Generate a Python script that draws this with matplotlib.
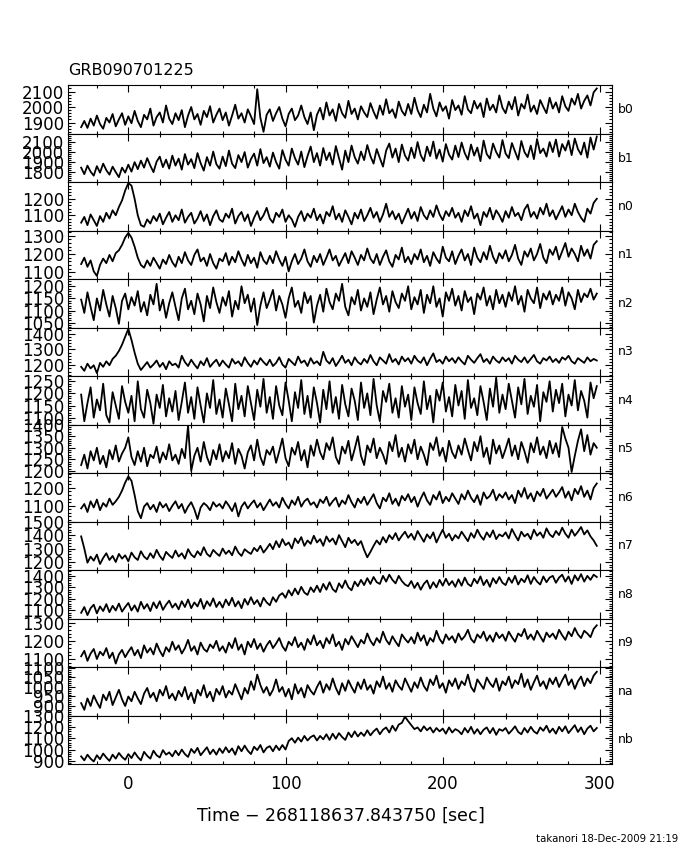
import numpy as np
import matplotlib
matplotlib.use("Agg")
import matplotlib.pyplot as plt
from matplotlib.ticker import MultipleLocator, FixedLocator

# time bins (sec, relative to trigger): -30 ... 298 every 2 s
t_start, t_step, n_bins = -30, 2, 165
time = t_start + t_step * np.arange(n_bins)

detectors = ["b0", "b1", "n0", "n1", "n2", "n3", "n4", "n5", "n6", "n7", "n8", "n9", "na", "nb"]

# count rates, one row = 30 s
b0 = [1870, 1910, 1865, 1925, 1880, 1945, 1890, 1860, 1930, 1900, 1955, 1875, 1920, 1960, 1885,
      1940, 1895, 1975, 1910, 1870, 1950, 1920, 1990, 1880, 1935, 1965, 1900, 2010, 1925, 1890,
      1960, 1915, 1980, 1870, 1945, 2000, 1920, 1955, 1885, 1975, 1935, 2005, 1900, 1950, 1990,
      1915, 1965, 1880, 1945, 2015, 1925, 1960, 1900, 1985, 1940, 1890, 2115, 1930, 1840, 1950,
      1985, 1910, 1960, 2000, 1925, 1875, 1955, 1990, 1915, 1945, 2010, 1935, 1890, 1965, 1850,
      1950, 1995, 1920, 2030, 1945, 1985, 1910, 2020, 1960, 1930, 2040, 1955, 1990, 1920, 2005,
      1965, 1935, 2025, 1970, 1925, 2010, 1950, 2050, 1960, 1985, 1930, 2035, 1975, 1945, 2020,
      1955, 2060, 1980, 1935, 2015, 1965, 2085, 1990, 1940, 2030, 1975, 2005, 1925, 2045, 1980,
      2010, 1950, 2070, 1985, 1960, 2040, 1990, 2025, 1935, 2055, 1980, 2015, 1965, 2075, 1995,
      1960, 2035, 1985, 2065, 1945, 2020, 1990, 2080, 1970, 2010, 1955, 2045, 2000, 1960, 2060,
      1990, 2030, 1965, 2070, 2005, 1975, 2055, 2015, 2085, 1990, 2040, 2075, 2010, 2095, 2120]
b1 = [1840, 1775, 1860, 1800, 1760, 1855, 1790, 1880, 1815, 1770, 1850, 1795, 1745, 1840, 1790,
      1870, 1800, 1895, 1825, 1910, 1840, 1935, 1860, 1795, 1900, 1950, 1845, 1920, 1830, 1960,
      1860, 1930, 1820, 1975, 1870, 1925, 1835, 1985, 1885, 1810, 1945, 1860, 2000, 1875, 1830,
      1950, 1855, 2010, 1880, 1835, 1965, 1895, 1995, 1840, 1925, 1980, 1860, 2025, 1885, 1945,
      1850, 1990, 1895, 1830, 2015, 1920, 1860, 2030, 1935, 1870, 2000, 1845, 1955, 2050, 1895,
      1985, 1860, 2035, 1915, 1990, 1870, 2055, 1935, 1820, 2010, 1895, 2060, 1945, 1880, 2000,
      1915, 2065, 1955, 1880, 2025, 1935, 1850, 2010, 2080, 1940, 2030, 1895, 2070, 1960, 1910,
      2040, 1935, 2095, 1965, 1905, 2050, 1955, 2100, 1930, 2020, 1900, 2075, 1970, 1920, 2060,
      1945, 2090, 1985, 1920, 2070, 1960, 2040, 1905, 2110, 1975, 1930, 2080, 1995, 1940, 2115,
      1980, 1935, 2085, 2000, 1920, 2105, 1995, 1945, 2060, 1925, 2125, 1985, 2030, 1950, 2095,
      1995, 2120, 1950, 2075, 2010, 2110, 1965, 2130, 2025, 1970, 2090, 1940, 2140, 2020, 2150]
n0 = [1055, 1090, 1040, 1105, 1070, 1035, 1095, 1060, 1115, 1080, 1130, 1100, 1150, 1190, 1250,
      1295, 1280, 1200, 1100, 1040, 1030, 1075, 1050, 1095, 1065, 1110, 1045, 1085, 1120, 1060,
      1100, 1070, 1135, 1055, 1090, 1115, 1050, 1080, 1125, 1065, 1105, 1040, 1095, 1130, 1075,
      1060, 1110, 1085, 1140, 1050, 1095, 1120, 1065, 1105, 1035, 1085, 1125, 1070, 1100, 1145,
      1080, 1055, 1115, 1090, 1135, 1060, 1100, 1075, 1030, 1090, 1125, 1065, 1110, 1085, 1140,
      1070, 1105, 1050, 1120, 1095, 1155, 1075, 1110, 1060, 1130, 1090, 1045, 1115, 1080, 1135,
      1065, 1100, 1145, 1085, 1120, 1060, 1105, 1170, 1090, 1125, 1075, 1110, 1050, 1095, 1140,
      1080, 1120, 1065, 1150, 1100, 1075, 1130, 1090, 1160, 1105, 1070, 1125, 1095, 1145, 1085,
      1115, 1060, 1130, 1095, 1155, 1080, 1110, 1040, 1120, 1090, 1145, 1075, 1130, 1100, 1060,
      1125, 1085, 1150, 1095, 1115, 1070, 1135, 1165, 1090, 1120, 1080, 1145, 1105, 1170, 1095,
      1130, 1075, 1115, 1155, 1090, 1135, 1100, 1170, 1120, 1085, 1060, 1140, 1110, 1175, 1200]
n1 = [1145, 1180, 1130, 1165, 1105, 1080, 1140, 1175, 1150, 1195, 1160, 1205, 1220, 1250, 1290,
      1315, 1290, 1240, 1180, 1140, 1125, 1165, 1135, 1180, 1150, 1120, 1170, 1145, 1195, 1155,
      1130, 1185, 1150, 1210, 1165, 1140, 1195, 1225, 1160, 1180, 1135, 1200, 1150, 1120, 1175,
      1160, 1205, 1140, 1185, 1155, 1215, 1170, 1135, 1195, 1150, 1180, 1125, 1210, 1165, 1145,
      1190, 1150, 1215, 1170, 1135, 1185, 1105, 1160, 1200, 1145, 1175, 1225, 1160, 1130, 1190,
      1155, 1200, 1140, 1180, 1225, 1165, 1190, 1135, 1170, 1205, 1150, 1215, 1180, 1140, 1195,
      1165, 1230, 1175, 1150, 1200, 1140, 1185, 1220, 1160, 1130, 1195, 1170, 1235, 1155, 1185,
      1145, 1200, 1170, 1225, 1155, 1190, 1135, 1210, 1175, 1150, 1240, 1180, 1160, 1215, 1145,
      1190, 1225, 1165, 1200, 1140, 1235, 1180, 1155, 1210, 1170, 1245, 1185, 1150, 1205, 1175,
      1220, 1160, 1195, 1250, 1175, 1140, 1215, 1185, 1230, 1165, 1200, 1255, 1180, 1150, 1225,
      1195, 1240, 1170, 1215, 1260, 1185, 1230, 1200, 1160, 1245, 1190, 1225, 1175, 1250, 1270]
n2 = [1145, 1090, 1175, 1115, 1060, 1150, 1100, 1185, 1125, 1075, 1160, 1110, 1045, 1140, 1170,
      1105, 1155, 1120, 1180, 1095, 1135, 1080, 1165, 1125, 1210, 1100, 1145, 1070, 1130, 1175,
      1115, 1060, 1150, 1190, 1105, 1140, 1085, 1170, 1125, 1055, 1160, 1110, 1195, 1135, 1090,
      1155, 1120, 1180, 1075, 1140, 1105, 1200, 1130, 1165, 1095, 1150, 1040, 1120, 1175, 1110,
      1145, 1185, 1100, 1160, 1125, 1070, 1150, 1195, 1115, 1140, 1090, 1175, 1130, 1160, 1050,
      1120, 1165, 1095, 1190, 1135, 1105, 1170, 1140, 1210, 1115, 1080, 1155, 1125, 1185, 1100,
      1150, 1115, 1175, 1085, 1145, 1195, 1125, 1160, 1095, 1180, 1135, 1110, 1170, 1140, 1200,
      1105, 1155, 1125, 1185, 1090, 1165, 1130, 1200, 1115, 1150, 1075, 1175, 1140, 1190, 1120,
      1160, 1100, 1180, 1135, 1155, 1085, 1170, 1145, 1195, 1120, 1160, 1105, 1185, 1130, 1165,
      1115, 1175, 1140, 1200, 1125, 1160, 1095, 1185, 1150, 1130, 1195, 1110, 1170, 1145, 1180,
      1125, 1165, 1140, 1195, 1120, 1175, 1150, 1105, 1185, 1135, 1170, 1155, 1190, 1145, 1170]
n3 = [1190, 1165, 1210, 1180, 1200, 1150, 1215, 1190, 1225, 1200, 1240, 1260, 1290, 1330, 1380,
      1430, 1360, 1280, 1210, 1170, 1195, 1220, 1185, 1205, 1230, 1190, 1215, 1175, 1225, 1200,
      1210, 1185, 1260, 1220, 1195, 1235, 1205, 1180, 1225, 1200, 1245, 1190, 1215, 1235, 1195,
      1230, 1205, 1185, 1240, 1210, 1225, 1195, 1250, 1215, 1190, 1230, 1205, 1245, 1220, 1200,
      1235, 1195, 1215, 1250, 1205, 1185, 1240, 1220, 1200, 1255, 1215, 1230, 1195, 1245, 1210,
      1225, 1200, 1285, 1230, 1210, 1245, 1195, 1225, 1260, 1215, 1235, 1200, 1250, 1220, 1205,
      1240, 1215, 1265, 1225, 1200, 1250, 1230, 1210, 1270, 1220, 1240, 1205, 1255, 1225, 1245,
      1210, 1260, 1230, 1215, 1250, 1200, 1240, 1275, 1220, 1235, 1210, 1255, 1225, 1245, 1215,
      1250, 1225, 1205, 1260, 1235, 1215, 1245, 1270, 1220, 1240, 1210, 1255, 1230, 1215, 1250,
      1225, 1245, 1210, 1260, 1235, 1220, 1250, 1215, 1240, 1265, 1225, 1210, 1245, 1230, 1255,
      1220, 1240, 1215, 1250, 1235, 1260, 1225, 1210, 1245, 1230, 1215, 1250, 1225, 1240, 1230]
n4 = [1195, 1085, 1160, 1225, 1100, 1175, 1130, 1240, 1110, 1080, 1205, 1150, 1095, 1230, 1165,
      1120, 1190, 1085, 1250, 1135, 1100, 1215, 1160, 1075, 1195, 1140, 1235, 1105, 1180, 1125,
      1210, 1090, 1165, 1245, 1120, 1185, 1095, 1225, 1150, 1080, 1200, 1140, 1255, 1115, 1175,
      1100, 1220, 1155, 1085, 1240, 1135, 1190, 1105, 1230, 1160, 1090, 1215, 1145, 1260, 1120,
      1185, 1095, 1230, 1150, 1110, 1245, 1170, 1085, 1205, 1140, 1255, 1115, 1190, 1100, 1225,
      1160, 1080, 1215, 1135, 1250, 1120, 1185, 1095, 1235, 1155, 1105, 1220, 1170, 1090, 1245,
      1140, 1200, 1110, 1260, 1150, 1085, 1210, 1165, 1240, 1120, 1180, 1100, 1230, 1145, 1195,
      1090, 1225, 1160, 1115, 1250, 1135, 1190, 1080, 1215, 1170, 1245, 1125, 1185, 1105, 1235,
      1150, 1210, 1095, 1255, 1140, 1180, 1110, 1230, 1165, 1090, 1220, 1145, 1265, 1120, 1195,
      1135, 1240, 1170, 1100, 1225, 1155, 1260, 1115, 1190, 1145, 1235, 1085, 1205, 1165, 1250,
      1125, 1215, 1160, 1240, 1105, 1195, 1150, 1255, 1130, 1210, 1170, 1100, 1245, 1180, 1230]
n5 = [1225, 1270, 1210, 1285, 1245, 1300, 1230, 1265, 1215, 1290, 1250, 1310, 1240, 1275, 1300,
      1345, 1260, 1225, 1285, 1240, 1300, 1220, 1270, 1255, 1305, 1235, 1280, 1250, 1315, 1245,
      1270, 1230, 1295, 1255, 1395, 1200, 1265, 1300, 1240, 1325, 1260, 1225, 1290, 1250, 1315,
      1240, 1285, 1255, 1320, 1230, 1295, 1265, 1210, 1280, 1310, 1245, 1335, 1260, 1225, 1290,
      1270, 1305, 1235, 1285, 1340, 1255, 1220, 1300, 1270, 1325, 1245, 1290, 1215, 1310, 1265,
      1335, 1280, 1250, 1320, 1290, 1345, 1260, 1230, 1305, 1275, 1330, 1245, 1295, 1350, 1265,
      1225, 1310, 1280, 1340, 1255, 1300, 1270, 1230, 1325, 1285, 1355, 1260, 1300, 1240, 1315,
      1275, 1335, 1250, 1305, 1270, 1225, 1320, 1290, 1345, 1265, 1300, 1240, 1330, 1280, 1255,
      1310, 1270, 1340, 1290, 1245, 1325, 1285, 1350, 1260, 1300, 1230, 1335, 1275, 1310, 1255,
      1295, 1340, 1265, 1310, 1250, 1325, 1285, 1235, 1320, 1280, 1345, 1270, 1305, 1255, 1330,
      1275, 1320, 1260, 1390, 1340, 1300, 1195, 1265, 1330, 1380, 1285, 1355, 1270, 1320, 1300]
n6 = [1085, 1110, 1065, 1125, 1090, 1135, 1075, 1115, 1095, 1140, 1105, 1125, 1150, 1185, 1230,
      1265, 1240, 1160, 1070, 1030, 1095, 1115, 1080, 1105, 1065, 1120, 1090, 1110, 1070, 1100,
      1125, 1085, 1110, 1060, 1095, 1120, 1080, 1025, 1090, 1115, 1100, 1075, 1120, 1095, 1110,
      1085, 1125, 1100, 1070, 1115, 1040, 1095, 1120, 1085, 1110, 1130, 1090, 1115, 1075, 1105,
      1135, 1100, 1120, 1090, 1145, 1110, 1085, 1130, 1105, 1150, 1095, 1125, 1140, 1105, 1120,
      1090, 1135, 1115, 1150, 1100, 1125, 1145, 1095, 1130, 1110, 1160, 1120, 1090, 1140, 1115,
      1150, 1105, 1135, 1165, 1115, 1085, 1145, 1125, 1170, 1110, 1140, 1100, 1155, 1130, 1165,
      1120, 1150, 1095, 1140, 1175, 1130, 1105, 1160, 1135, 1180, 1115, 1150, 1125, 1170, 1140,
      1110, 1165, 1135, 1185, 1145, 1120, 1160, 1105, 1175, 1140, 1155, 1190, 1130, 1165, 1145,
      1175, 1135, 1160, 1115, 1185, 1150, 1200, 1140, 1170, 1125, 1180, 1155, 1195, 1140, 1165,
      1190, 1150, 1175, 1205, 1145, 1180, 1130, 1195, 1165, 1210, 1150, 1185, 1135, 1200, 1225]
n7 = [1390, 1300, 1195, 1240, 1210, 1255, 1185, 1230, 1265, 1215, 1245, 1200, 1260, 1225, 1250,
      1205, 1270, 1235, 1215, 1280, 1240, 1220, 1265, 1230, 1290, 1245, 1215, 1275, 1250, 1230,
      1285, 1240, 1265, 1225, 1295, 1255, 1235, 1280, 1250, 1310, 1260, 1240, 1290, 1265, 1245,
      1300, 1260, 1285, 1250, 1315, 1270, 1245, 1295, 1275, 1260, 1305, 1280, 1320, 1270, 1300,
      1335, 1295, 1355, 1310, 1370, 1325, 1345, 1300, 1375, 1340, 1385, 1320, 1360, 1335, 1395,
      1345, 1370, 1320, 1390, 1350, 1375, 1330, 1400, 1355, 1310, 1380, 1340, 1365, 1325, 1355,
      1290, 1235, 1275, 1320, 1360, 1330, 1385, 1345, 1400, 1370, 1415, 1360, 1395, 1425, 1380,
      1410, 1365, 1430, 1390, 1350, 1405, 1375, 1420, 1345, 1395, 1440, 1380, 1410, 1360, 1400,
      1375, 1425, 1390, 1355, 1415, 1380, 1440, 1395, 1365, 1420, 1385, 1435, 1370, 1405, 1390,
      1420, 1375, 1445, 1400, 1360, 1425, 1390, 1410, 1370, 1440, 1395, 1420, 1380, 1450, 1405,
      1385, 1430, 1400, 1455, 1410, 1380, 1440, 1395, 1425, 1460, 1405, 1435, 1390, 1360, 1320]
n8 = [1080, 1130, 1060, 1120, 1150, 1075, 1135, 1095, 1155, 1085, 1140, 1100, 1160, 1090, 1130,
      1165, 1100, 1145, 1090, 1175, 1115, 1155, 1095, 1170, 1120, 1180, 1105, 1150, 1185, 1125,
      1160, 1110, 1180, 1130, 1195, 1120, 1170, 1135, 1200, 1115, 1180, 1140, 1205, 1130, 1175,
      1125, 1195, 1145, 1210, 1135, 1180, 1120, 1200, 1150, 1215, 1155, 1190, 1135, 1210, 1170,
      1145, 1215, 1175, 1230, 1250, 1210, 1275, 1230, 1290, 1240, 1305, 1255, 1235, 1300, 1260,
      1315, 1260, 1330, 1280, 1345, 1285, 1260, 1335, 1295, 1360, 1300, 1275, 1350, 1310, 1365,
      1320, 1380, 1330, 1390, 1345, 1330, 1400, 1350, 1410, 1365, 1335, 1400, 1355, 1325, 1310,
      1355, 1295, 1340, 1280, 1330, 1360, 1290, 1345, 1300, 1365, 1315, 1375, 1320, 1355, 1305,
      1370, 1315, 1385, 1330, 1310, 1375, 1335, 1395, 1320, 1365, 1305, 1380, 1335, 1390, 1340,
      1320, 1385, 1340, 1400, 1325, 1375, 1345, 1405, 1330, 1390, 1350, 1325, 1395, 1345, 1385,
      1400, 1340, 1385, 1410, 1350, 1395, 1330, 1405, 1360, 1415, 1350, 1400, 1365, 1410, 1390]
n9 = [1115, 1145, 1090, 1130, 1155, 1100, 1140, 1120, 1160, 1105, 1135, 1075, 1125, 1150, 1110,
      1140, 1165, 1120, 1150, 1105, 1175, 1135, 1160, 1125, 1185, 1145, 1115, 1165, 1140, 1195,
      1150, 1175, 1130, 1160, 1205, 1145, 1170, 1125, 1190, 1155, 1140, 1180, 1160, 1200, 1145,
      1170, 1135, 1190, 1160, 1215, 1150, 1180, 1125, 1195, 1165, 1210, 1155, 1185, 1140, 1175,
      1200, 1160, 1185, 1215, 1170, 1145, 1195, 1175, 1220, 1165, 1190, 1150, 1210, 1180, 1230,
      1175, 1200, 1160, 1215, 1185, 1235, 1170, 1195, 1150, 1210, 1180, 1225, 1195, 1165, 1205,
      1185, 1240, 1200, 1175, 1215, 1190, 1250, 1205, 1180, 1225, 1195, 1170, 1235, 1210, 1190,
      1220, 1185, 1245, 1200, 1230, 1175, 1215, 1195, 1255, 1210, 1185, 1235, 1205, 1225, 1190,
      1240, 1205, 1225, 1260, 1210, 1190, 1235, 1215, 1250, 1200, 1230, 1195, 1245, 1215, 1235,
      1200, 1250, 1220, 1195, 1240, 1225, 1265, 1210, 1235, 1205, 1255, 1225, 1195, 1245, 1220,
      1240, 1210, 1260, 1230, 1205, 1250, 1225, 1270, 1235, 1215, 1255, 1240, 1220, 1265, 1285]
na = [915, 880, 940, 900, 955, 920, 890, 960, 930, 975, 905, 945, 985, 935, 900,
      950, 925, 975, 940, 910, 965, 995, 945, 970, 925, 985, 955, 1005, 940, 965,
      930, 980, 950, 1000, 935, 970, 915, 985, 955, 1010, 945, 975, 925, 990, 960,
      1005, 945, 980, 960, 1015, 975, 935, 995, 965, 1030, 985, 1065, 1010, 970, 1000,
      955, 985, 1040, 975, 1000, 950, 990, 935, 1015, 965, 995, 945, 1010, 980, 960,
      1000, 1030, 970, 1015, 985, 1045, 995, 960, 1020, 980, 1035, 1000, 970, 1025, 990,
      1040, 985, 1010, 965, 1030, 1000, 1055, 990, 1020, 975, 1035, 1005, 985, 1045, 1010,
      975, 1025, 995, 1050, 1005, 980, 1040, 1010, 1060, 995, 1020, 970, 1035, 1005, 1045,
      990, 1030, 1010, 1065, 1000, 975, 1040, 1015, 990, 1050, 1020, 1000, 1045, 980, 1030,
      1010, 1055, 995, 1035, 1015, 1070, 1000, 1040, 985, 1025, 1060, 1005, 1030, 990, 1045,
      1015, 1050, 1000, 1035, 1065, 1010, 1040, 990, 1030, 1055, 1005, 1045, 1020, 1060, 1080]
nb = [940, 905, 955, 920, 895, 950, 915, 965, 930, 900, 955, 920, 970, 935, 910,
      960, 925, 975, 935, 905, 980, 945, 920, 990, 950, 930, 995, 955, 975, 940,
      990, 950, 1000, 960, 935, 1005, 970, 1015, 950, 985, 1020, 960, 1000, 955, 1010,
      970, 1020, 975, 1010, 955, 1030, 985, 1035, 990, 960, 1025, 995, 1040, 975, 1015,
      1030, 985, 1035, 995, 1040, 1000, 1075, 1100, 1060, 1105, 1070, 1120, 1080, 1110, 1125,
      1080, 1120, 1090, 1135, 1085, 1140, 1095, 1145, 1110, 1085, 1150, 1110, 1160, 1115, 1150,
      1120, 1170, 1125, 1160, 1185, 1135, 1175, 1195, 1150, 1210, 1165, 1220, 1235, 1290, 1250,
      1215, 1180, 1195, 1160, 1205, 1170, 1195, 1150, 1190, 1160, 1185, 1140, 1195, 1150, 1180,
      1165, 1135, 1190, 1150, 1200, 1140, 1180, 1135, 1175, 1195, 1145, 1190, 1130, 1180, 1165,
      1190, 1140, 1170, 1205, 1155, 1135, 1190, 1150, 1200, 1160, 1140, 1195, 1165, 1210, 1150,
      1185, 1140, 1200, 1160, 1205, 1145, 1180, 1215, 1155, 1195, 1135, 1185, 1210, 1160, 1190]

rates = [b0, b1, n0, n1, n2, n3, n4, n5, n6, n7, n8, n9, na, nb]

# axis ranges and tick positions for each panel
ylims = [(1827, 2140), (1694, 2177), (1006, 1300), (1062, 1327), (1029, 1229),
         (1131, 1437), (1071, 1271), (1190, 1400), (1011, 1283), (1140, 1500),
         (1030, 1450), (1056, 1322), (850, 1105), (873, 1300)]
yticks = [[1900, 2000, 2100], [1800, 1900, 2000, 2100], [1100, 1200],
          [1100, 1200, 1300], [1050, 1100, 1150, 1200], [1200, 1300, 1400],
          [1100, 1150, 1200, 1250], [1200, 1250, 1300, 1350, 1400], [1100, 1200],
          [1200, 1300, 1400, 1500], [1100, 1200, 1300, 1400], [1100, 1200, 1300],
          [900, 950, 1000, 1050, 1100], [900, 1000, 1100, 1200, 1300]]
yminor = [20, 20, 20, 20, 10, 20, 10, 10, 20, 20, 20, 20, 10, 20]

plt.rcParams["font.family"] = ["DejaVu Sans"]

fig, axes = plt.subplots(len(detectors), 1, figsize=(6.8, 8.5), dpi=100,
                         sharex=True, gridspec_kw={"hspace": 0})
fig.subplots_adjust(left=0.1004, right=0.8996, bottom=0.1012, top=0.8996)

for ax, name, vals, lim, tks, mn in zip(axes, detectors, rates, ylims, yticks, yminor):
    ax.plot(time, vals, color="black", lw=1.3)
    ax.set_xlim(-38.2, 307.5)
    ax.set_ylim(*lim)
    ax.yaxis.set_major_locator(FixedLocator(tks))
    ax.yaxis.set_minor_locator(MultipleLocator(mn))
    ax.xaxis.set_major_locator(MultipleLocator(100))
    ax.xaxis.set_minor_locator(MultipleLocator(20))
    ax.tick_params(which="both", direction="in", top=True, right=True,
                   width=0.8, labelsize=12, pad=3)
    ax.tick_params(which="major", length=5)
    ax.tick_params(which="minor", length=2.5)
    for s in ax.spines.values():
        s.set_linewidth(0.8)
    ax.text(1.012, 0.5, name, transform=ax.transAxes, fontsize=9,
            va="center", ha="left")

axes[-1].tick_params(axis="x", labelsize=12, pad=8)
axes[-1].set_xlabel("Time $-$ 268118637.843750 [sec]", fontsize=12.5, labelpad=9)

fig.text(0.1004, 0.917, "GRB090701225", fontsize=11.5, ha="left", va="center")
fig.text(0.997, 0.013, "takanori 18-Dec-2009 21:19", fontsize=7.3,
         ha="right", va="center")

fig.savefig("out.png", dpi=100)
